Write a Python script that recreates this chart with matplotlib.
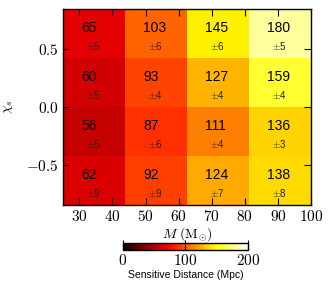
import matplotlib
matplotlib.use("Agg")
import matplotlib.pyplot as plt
import numpy as np

plt.rcParams["mathtext.fontset"] = "cm"
plt.rcParams["font.family"] = ["Liberation Sans", "DejaVu Sans"]

# grid edges
mass_edges = [25.0, 43.75, 62.5, 81.25, 100.0]
chi_edges = [-0.85, -0.425, 0.0, 0.425, 0.85]

# sensitive distance (Mpc), rows from bottom (chi=-0.64) to top (chi=0.64)
distance = [
    [62, 92, 124, 138],
    [56, 87, 111, 136],
    [60, 93, 127, 159],
    [65, 103, 145, 180],
]
errors = [
    [9, 9, 7, 8],
    [5, 6, 4, 3],
    [5, 4, 4, 4],
    [5, 6, 6, 5],
]

x_ticks = [30, 40, 50, 60, 70, 80, 90, 100]
y_ticks = [-0.5, 0.0, 0.5]
cbar_ticks = [0, 100, 200]

fig = plt.figure(figsize=(3.32, 2.94), dpi=100)
ax = fig.add_axes([0.189, 0.303, 0.748, 0.666])

Z = np.array(distance, dtype=float)
mesh = ax.pcolormesh(mass_edges, chi_edges, Z, cmap="hot", vmin=0, vmax=200)

for i in range(len(chi_edges) - 1):
    yc = 0.5 * (chi_edges[i] + chi_edges[i + 1])
    for j in range(len(mass_edges) - 1):
        x0 = mass_edges[j]
        ax.text(x0 + 5.5, yc + 0.05, str(distance[i][j]), ha="left", va="center",
                fontsize=10, color="black")
        ax.text(x0 + 7.0, yc - 0.112, r"$\pm$" + str(errors[i][j]), ha="left", va="center",
                fontsize=7, color="#222222")

ax.set_xlim(mass_edges[0], mass_edges[-1])
ax.set_ylim(chi_edges[0], chi_edges[-1])
ax.set_xticks(x_ticks)
ax.set_xticklabels(["$%d$" % v for v in x_ticks], fontsize=11)
ax.set_yticks(y_ticks)
ax.set_yticklabels(["$%.1f$" % v for v in y_ticks], fontsize=11)
ax.tick_params(direction="in", top=True, right=True, length=5, width=0.8, pad=3)
for s in ax.spines.values():
    s.set_linewidth(1.0)

ax.set_xlabel(r"$M\ (\mathrm{M}_{\odot})$", fontsize=10, labelpad=1)
ax.set_ylabel(r"$\chi_s$", fontsize=10, labelpad=8)

cax = fig.add_axes([0.370, 0.150, 0.377, 0.024])
cb = fig.colorbar(mesh, cax=cax, orientation="horizontal", ticks=cbar_ticks)
cb.ax.set_xticklabels(["$%d$" % v for v in cbar_ticks], fontsize=11)
cb.ax.tick_params(direction="in", length=7, width=0.8, pad=2)
cb.outline.set_linewidth(1.0)
cb.set_label("Sensitive Distance (Mpc)", fontsize=7.5, labelpad=2)

fig.savefig("out.png", dpi=100)
